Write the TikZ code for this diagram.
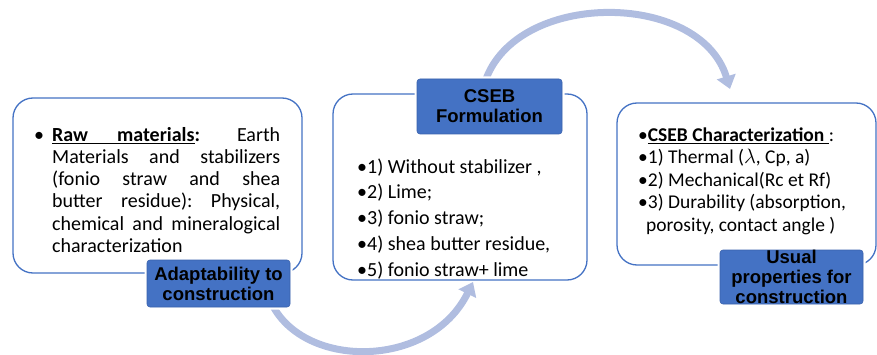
\documentclass[tikz,border=0pt]{standalone}
\usepackage{fontspec}
\setmainfont{Carlito}
\newfontfamily\labfont{Liberation Sans}
\usetikzlibrary{arrows.meta}
\definecolor{boxblue}{HTML}{4472C4}
\definecolor{labedge}{HTML}{3A62AD}
\definecolor{arrowblue}{HTML}{B0BDE0}
\newcommand{\firststrut}{\rule{0pt}{17pt}}
\newcommand{\jline}[1]{\makebox[228pt]{#1}}
\tikzset{
  x=1pt, y=-1pt,
  mainbox/.style={draw=boxblue, line width=1.3pt, rounded corners=20pt},
  labelbox/.style={fill=boxblue, draw=labedge, line width=0.6pt, rounded corners=3pt,
    align=center, inner sep=0pt, font=\labfont\bfseries\fontsize{18.5}{20}\selectfont},
  labelhalo/.style={draw=white, line width=5pt, rounded corners=4pt},
  bodytext/.style={inner sep=0pt, anchor=north west, font=\fontsize{20}{22.2}\selectfont},
  bigarrow/.style={draw=arrowblue, line width=7pt, -{Triangle[length=13pt,width=19pt]}}
}
\begin{document}
\begin{tikzpicture}
\useasboundingbox (0,0) rectangle (877,355);
% arrows (behind)
\coordinate (a1s) at (270,300);
\coordinate (a1e) at (473,282);
\coordinate (a2s) at (485,82);
\coordinate (a2e) at (730,89);
\draw[bigarrow] (a1s) .. controls (300,370) and (430,370) .. (a1e);
\draw[bigarrow] (a2s) .. controls (515,-10) and (700,-10) .. (a2e);
% boxes
\draw[mainbox, fill=white] (13,98) rectangle (302,273);
\draw[mainbox, fill=white] (333,94) rectangle (587,280);
\draw[mainbox, fill=white] (617,103) rectangle (876,265);
% left text
\node[bodytext, align=left] (t1) at (52,124) {%
\firststrut\llap{\textbullet\hspace{8pt}}\jline{\underline{\textbf{Raw}\hspace{29pt}\textbf{materials}}\textbf{:}\hfill Earth}\\
\jline{Materials\hfill and\hfill stabilizers}\\
\jline{(fonio\hfill straw\hfill and\hfill shea}\\
\jline{butter\hfill residue):\hfill Physical,}\\
\jline{chemical\hfill and\hfill mineralogical}\\
characterization};
% middle text
\node[bodytext, align=left, font=\fontsize{20}{25.75}\selectfont] (t2) at (357,156) {%
\firststrut\textbullet1) Without stabilizer ,\\
\textbullet2) Lime;\\
\textbullet3) fonio straw;\\
\textbullet4) shea butter residue,\\
\textbullet5) fonio straw+ lime};
% right text
\node[bodytext, align=left, font=\fontsize{19.5}{22.5}\selectfont] (t3) at (638,124) {%
\firststrut\textbullet\underline{\textbf{CSEB Characterization }}:\\
\textbullet1) Thermal ($\lambda$, Cp, a)\\
\textbullet2) Mechanical(Rc et Rf)\\
\textbullet3) Durability (absorption,\\
\hspace{8pt}porosity, contact angle )};
% labels
\draw[labelhalo] (147,260) rectangle (290,307);
\node[labelbox, minimum width=143pt, minimum height=47pt] (l1) at (218.5,283.5) {Adaptability to\\construction};
\draw[labelhalo] (417,79) rectangle (562,134);
\node[labelbox, minimum width=145pt, minimum height=55pt] (l2) at (489.5,106.5) {CSEB\\Formulation};
\draw[labelhalo] (720,250) rectangle (863,304);
\node[labelbox, minimum width=143pt, minimum height=54pt] (l3) at (791.5,277) {Usual\\properties for\\construction};
\end{tikzpicture}
\end{document}
